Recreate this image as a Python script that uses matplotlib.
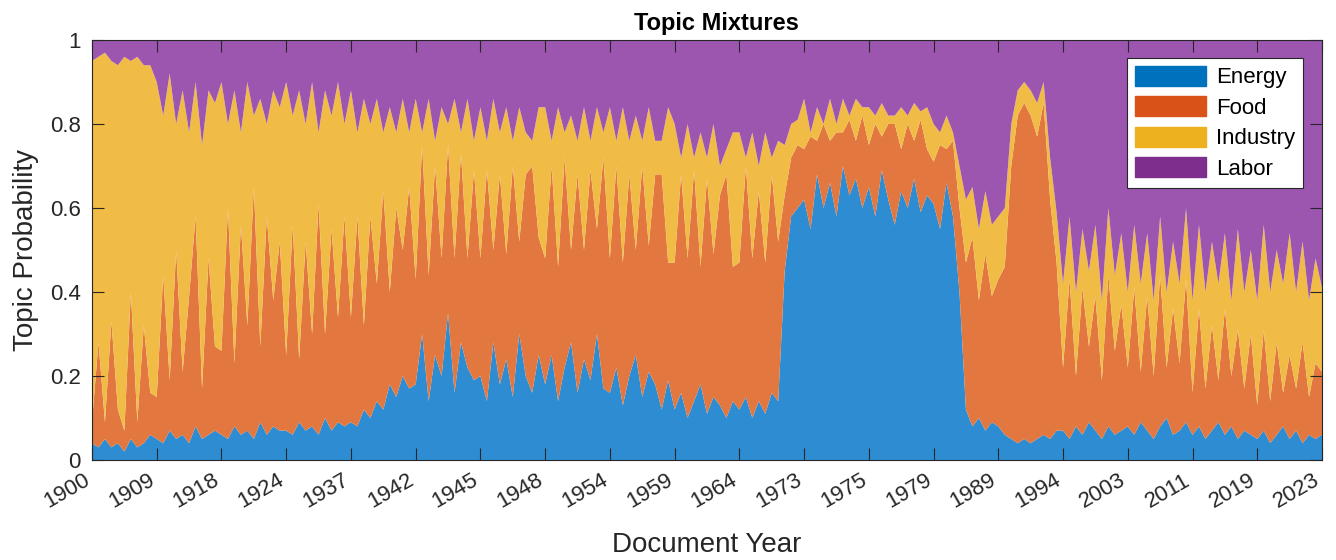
import numpy as np
import matplotlib
matplotlib.use("Agg")
import matplotlib.pyplot as plt
from matplotlib.patches import Patch
from matplotlib.transforms import ScaledTranslation

plt.rcParams['font.family'] = ['Liberation Sans', 'DejaVu Sans']

topics = ["Energy", "Food", "Industry", "Labor"]
year_labels = ["1900", "1909", "1918", "1924", "1937", "1942", "1945", "1948", "1954",
               "1959", "1964", "1973", "1975", "1979", "1989", "1994", "2003", "2011",
               "2019", "2023"]

# Topic probabilities (percent) per document sample, 10 samples per labelled interval
energy = [
    4, 3, 5, 3, 4, 2, 5, 3, 4, 6,
    5, 4, 7, 5, 6, 4, 8, 5, 6, 7,
    6, 5, 8, 6, 7, 5, 9, 6, 8, 7,
    7, 6, 9, 7, 8, 6, 10, 7, 9, 8,
    9, 8, 12, 10, 14, 12, 18, 15, 20, 17,
    18, 30, 14, 25, 20, 35, 16, 28, 22, 19,
    20, 14, 28, 18, 24, 15, 30, 20, 16, 25,
    18, 25, 14, 22, 28, 16, 24, 19, 30, 17,
    16, 22, 13, 20, 25, 15, 21, 18, 12, 19,
    12, 16, 10, 14, 18, 11, 15, 13, 10, 14,
    12, 15, 10, 14, 11, 16, 14, 45, 58, 60,
    62, 55, 68, 60, 66, 58, 70, 63, 67, 60,
    65, 58, 69, 62, 56, 64, 60, 67, 59, 63,
    61, 55, 66, 58, 40, 12, 8, 10, 7, 9,
    8, 6, 5, 4, 5, 4, 5, 6, 5, 7,
    7, 5, 8, 6, 9, 7, 5, 8, 6, 7,
    8, 6, 9, 7, 5, 8, 10, 6, 7, 9,
    6, 8, 5, 7, 9, 6, 8, 5, 7, 6,
    5, 7, 4, 6, 8, 5, 7, 4, 6, 5,
    6,
]
food = [
    5, 25, 4, 30, 8, 5, 35, 6, 28, 10,
    10, 40, 12, 45, 15, 35, 50, 12, 42, 20,
    20, 55, 15, 50, 25, 60, 18, 52, 30, 45,
    18, 50, 15, 45, 22, 55, 20, 48, 25, 50,
    25, 50, 20, 48, 28, 52, 22, 45, 30, 48,
    25, 45, 30, 45, 28, 40, 32, 45, 26, 50,
    28, 55, 22, 50, 25, 55, 22, 48, 54, 28,
    30, 45, 32, 50, 22, 52, 26, 50, 25, 55,
    32, 48, 34, 48, 25, 55, 30, 50, 56, 28,
    35, 52, 38, 55, 28, 56, 34, 50, 58, 32,
    35, 55, 38, 50, 36, 52, 38, 18, 14, 15,
    12, 22, 8, 20, 10, 20, 8, 18, 9, 22,
    10, 22, 8, 18, 24, 10, 20, 9, 22, 11,
    10, 20, 8, 18, 20, 35, 45, 28, 42, 30,
    35, 40, 65, 78, 80, 78, 72, 79, 57, 40,
    15, 38, 12, 35, 18, 32, 14, 36, 20, 30,
    14, 35, 12, 32, 15, 36, 12, 30, 16, 34,
    10, 28, 12, 25, 10, 30, 12, 26, 10, 24,
    8, 24, 10, 22, 8, 20, 10, 24, 9, 18,
    15,
]
industry = [
    86, 68, 88, 62, 82, 89, 55, 87, 62, 78,
    75, 38, 73, 30, 67, 39, 32, 58, 40, 58,
    64, 20, 65, 22, 58, 17, 59, 22, 50, 32,
    65, 26, 64, 28, 60, 17, 58, 27, 56, 22,
    54, 20, 54, 22, 44, 14, 44, 18, 36, 13,
    43, 3, 42, 6, 36, 5, 38, 5, 38, 7,
    36, 7, 36, 10, 35, 6, 32, 10, 6, 31,
    36, 6, 38, 6, 32, 8, 34, 7, 29, 6,
    36, 6, 37, 8, 32, 6, 33, 8, 8, 37,
    33, 4, 32, 3, 32, 5, 31, 7, 6, 32,
    31, 2, 30, 6, 31, 4, 24, 12, 8, 6,
    12, 1, 8, 0, 10, 2, 8, 1, 10, 2,
    9, 2, 8, 2, 2, 10, 2, 9, 2, 10,
    9, 3, 8, 2, 10, 15, 12, 17, 15, 17,
    15, 14, 10, 6, 5, 6, 8, 5, 10, 12,
    20, 15, 20, 14, 18, 17, 19, 16, 18, 17,
    18, 15, 21, 15, 18, 14, 18, 16, 19, 17,
    22, 20, 23, 20, 23, 18, 18, 24, 23, 20,
    25, 25, 26, 22, 26, 29, 23, 24, 23, 25,
    20,
]

E = np.array(energy) / 100.0
F = np.array(food) / 100.0
I = np.array(industry) / 100.0
L = 1.0 - E - F - I

n = len(E)
x = np.arange(n) / 10.0

line_colors = ["#0072BD", "#D95319", "#EDB120", "#7E2F8E"]
fill_colors = ["#2E8CD2", "#E2773F", "#F1BC46", "#9C56AF"]

fig = plt.figure(figsize=(13.36, 5.6), dpi=100)
ax = fig.add_axes([92/1336, 1 - 460/560, (1322-92)/1336, 420/560])

ax.stackplot(x, E, F, I, L, colors=fill_colors, linewidth=0)

ax.set_xlim(0, 19)
ax.set_ylim(0, 1)
ax.set_xticks(np.arange(len(year_labels)))
ax.set_xticklabels(year_labels, rotation=30, ha='right', va='top', rotation_mode='anchor')
ax.set_yticks([0, 0.2, 0.4, 0.6, 0.8, 1.0])
ax.set_yticklabels(["0", "0.2", "0.4", "0.6", "0.8", "1"])
ax.tick_params(direction='in', length=8.5, width=0.8, color='#262626',
               top=True, right=True, labelsize=16, labelcolor='#262626')
ax.tick_params(axis='x', pad=7)
ax.tick_params(axis='y', pad=8)
shift = ScaledTranslation(-9/100, 0, fig.dpi_scale_trans)
for lab in ax.get_xticklabels():
    lab.set_transform(lab.get_transform() + shift)
for s in ax.spines.values():
    s.set_color('#262626')
    s.set_linewidth(0.8)
ax.set_axisbelow(False)

ax.set_title("Topic Mixtures", fontsize=17, fontweight='bold', color='black', pad=7, x=0.508)
ax.set_xlabel("Document Year", fontsize=20, color='#262626', labelpad=14)
ax.set_ylabel("Topic Probability", fontsize=20, color='#262626', labelpad=8)

handles = [Patch(facecolor=c, edgecolor=c, label=t) for c, t in zip(line_colors, topics)]
leg = ax.legend(handles=handles, loc='upper right', bbox_to_anchor=(1303/1336, 1 - 58/560),
                bbox_transform=fig.transFigure, fontsize=16, fancybox=False, framealpha=1,
                edgecolor='#262626', handlelength=3.2, handleheight=1.0, handletextpad=0.45,
                labelspacing=0.36, borderpad=0.35, borderaxespad=0)
leg.get_frame().set_linewidth(0.8)

fig.savefig("out.png", dpi=100)
